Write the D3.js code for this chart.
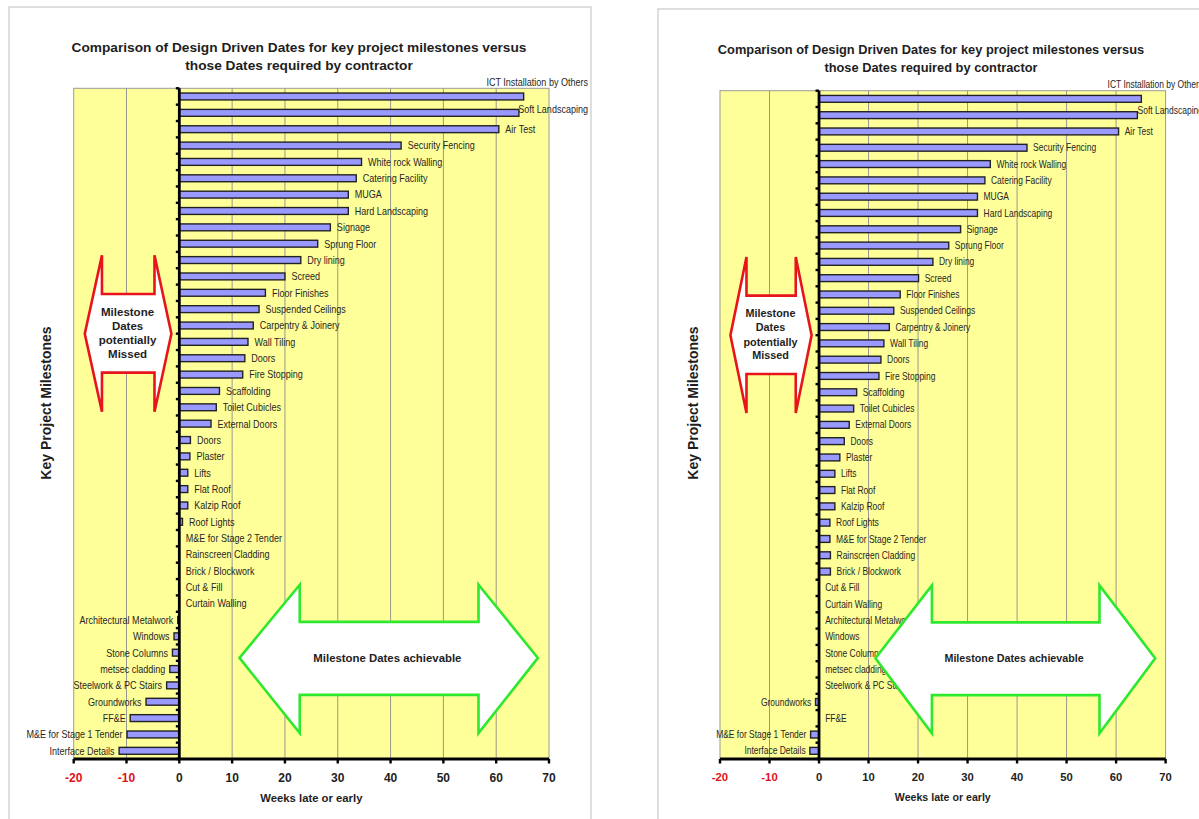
<!DOCTYPE html>
<html>
<head>
<meta charset="utf-8">
<script src="https://cdn.jsdelivr.net/npm/d3@7"></script>
<style>
  html, body { margin: 0; padding: 0; background: #fff; }
  svg { display: block; }
  text { font-family: "Liberation Sans", Arial, "DejaVu Sans", sans-serif; }
</style>
</head>
<body>
<svg id="chart" width="1199" height="819"></svg>
<script>
// ---------- DATA ----------
const categories = [
  "ICT Installation by Others", "Soft Landscaping", "Air Test", "Security Fencing",
  "White rock Walling", "Catering Facility", "MUGA", "Hard Landscaping", "Signage",
  "Sprung Floor", "Dry lining", "Screed", "Floor Finishes", "Suspended Ceilings",
  "Carpentry & Joinery", "Wall Tiling", "Doors", "Fire Stopping", "Scaffolding",
  "Toilet Cubicles", "External Doors", "Doors", "Plaster", "Lifts", "Flat Roof",
  "Kalzip Roof", "Roof Lights", "M&E for Stage 2 Tender", "Rainscreen Cladding",
  "Brick / Blockwork", "Cut & Fill", "Curtain Walling", "Architectural Metalwork",
  "Windows", "Stone Columns", "metsec cladding", "Steelwork & PC Stairs",
  "Groundworks", "FF&E", "M&E for Stage 1 Tender", "Interface Details"
];
const weeksLeft = [
  65.2, 64.3, 60.5, 42.0, 34.5, 33.5, 32.0, 32.0, 28.6, 26.2, 23.0, 20.0, 16.3, 15.1,
  14.0, 13.0, 12.4, 12.0, 7.6, 7.0, 6.0, 2.1, 2.0, 1.6, 1.6, 1.6, 0.6, 0, 0,
  0, 0, 0, -0.3, -1.0, -1.3, -1.8, -2.4, -6.3, -9.3, -9.9, -11.4
];
const weeksRight = [
  65.1, 64.3, 60.5, 42.0, 34.6, 33.5, 32.0, 32.0, 28.6, 26.2, 23.0, 20.1, 16.4, 15.1,
  14.2, 13.1, 12.5, 12.1, 7.6, 7.0, 6.1, 5.1, 4.2, 3.2, 3.2, 3.2, 2.2, 2.2, 2.3,
  2.3, 0, 0, 0, 0, 0, 0, 0, -0.7, 0, -1.7, -1.85
];
const xTicks = [-20, -10, 0, 10, 20, 30, 40, 50, 60, 70];
const gridWeeks = [-10, 10, 20, 30, 40, 50, 60];
const titleLines = [
  "Comparison of Design Driven Dates for key project milestones versus",
  "those Dates required by contractor"
];
const xTitle = "Weeks late or early";
const yTitle = "Key Project Milestones";
const missedText = ["Milestone", "Dates", "potentially", "Missed"];
const achievableText = "Milestone Dates achievable";

// ---------- LAYOUT / STYLE ----------
const panels = [
  { values: weeksLeft, k: 1,
    frame: { x: 9, y: 7, w: 582, h: 840 },
    plot: { left: 73.7, right: 549, top: 88.3, bottom: 759 },
    title: { cx: 299, y1: 47.7, y2: 65, width: 455 },
    yTitle: { x: 45.8, y: 403 }, tickY: 778, xTitleY: 798,
    clampRight: 588, labelDy: { 0: -14, 1: -3.5 } },
  { values: weeksRight, k: 0.94,
    frame: { x: 658, y: 9, w: 700, h: 840 },
    plot: { left: 720, right: 1165.6, top: 90.7, bottom: 759 },
    title: { cx: 931, y1: 49.3, y2: 67, width: 427 },
    yTitle: { x: 693.5, y: 403 }, tickY: 777, xTitleY: 797.7,
    clampRight: 1203, labelDy: { 0: -14.5, 1: -5 } }
];
// annotation shapes in data units (x: weeks, y: category-band units)
const redArrow = { xl: -17.9, xb1: -14.65, xb2: -4.7, xr: -1.5,
                   yMid: 15.0, yHeadTop: 10.2, yHeadBot: 19.77, yShaftTop: 12.57, yShaftBot: 17.38,
                   textX: -9.8, textY: [13.66, 14.54, 15.4, 16.25] };
const greenArrow = { xl: 11.4, xb1: 22.8, xb2: 56.65, xr: 67.9,
                     yMid: 34.82, yHeadTop: 30.35, yHeadBot: 39.42, yShaftTop: 32.62, yShaftBot: 37.08,
                     textX: 39.4 };

const svg = d3.select("#chart");

function arrowPath(a, x, y) {
  const pts = [
    [a.xl, a.yMid], [a.xb1, a.yHeadTop], [a.xb1, a.yShaftTop], [a.xb2, a.yShaftTop],
    [a.xb2, a.yHeadTop], [a.xr, a.yMid], [a.xb2, a.yHeadBot], [a.xb2, a.yShaftBot],
    [a.xb1, a.yShaftBot], [a.xb1, a.yHeadBot]
  ];
  return "M" + pts.map(p => x(p[0]).toFixed(2) + "," + y(p[1]).toFixed(2)).join("L") + "Z";
}

panels.forEach(P => {
  const g = svg.append("g");
  const k = P.k;
  // outer frame
  g.append("rect").attr("x", P.frame.x).attr("y", P.frame.y)
    .attr("width", P.frame.w).attr("height", P.frame.h)
    .attr("fill", "#fff").attr("stroke", "#bdbdbd").attr("stroke-width", 1);

  const x = d3.scaleLinear().domain([-20, 70]).range([P.plot.left, P.plot.right]);
  const yLin = d3.scaleLinear().domain([0, categories.length]).range([P.plot.top, P.plot.bottom]);
  const y = d3.scaleBand().domain(d3.range(categories.length))
    .range([P.plot.top, P.plot.bottom]).paddingInner(0.58).paddingOuter(0.29);

  // title
  titleLines.forEach((t, i) => {
    const tt = g.append("text").attr("x", P.title.cx).attr("y", i === 0 ? P.title.y1 : P.title.y2)
      .attr("text-anchor", "middle").attr("dominant-baseline", "central")
      .attr("font-weight", "bold").attr("font-size", 12).attr("fill", "#1e1e1e").text(t);
    if (i === 0) {
      const w = tt.node().getComputedTextLength();
      P.titleSize = 12 * P.title.width / w;
    }
    tt.attr("font-size", P.titleSize);
  });

  // plot background
  g.append("rect").attr("x", P.plot.left).attr("y", P.plot.top)
    .attr("width", P.plot.right - P.plot.left).attr("height", P.plot.bottom - P.plot.top)
    .attr("fill", "#ffff99").attr("stroke", "#9a9a9a").attr("stroke-width", 1);

  // gridlines
  g.selectAll(".grid").data(gridWeeks).join("line")
    .attr("x1", d => x(d)).attr("x2", d => x(d))
    .attr("y1", P.plot.top).attr("y2", P.plot.bottom)
    .attr("stroke", "#8c8c8c").attr("stroke-width", 0.9);

  // bars
  g.selectAll(".bar").data(P.values).join("rect")
    .attr("x", d => Math.min(x(0), x(d)))
    .attr("y", (d, i) => y(i))
    .attr("width", d => Math.abs(x(d) - x(0)))
    .attr("height", y.bandwidth())
    .attr("fill", "#9999ff")
    .attr("stroke", d => d === 0 ? "none" : "#222").attr("stroke-width", 1.4);

  // bar labels (narrow)
  const fs = 11 * k;
  P.values.forEach((v, i) => {
    const cy = y(i) + y.bandwidth() / 2 + (P.labelDy[i] || 0);
    const t = g.append("text").attr("font-size", fs).attr("fill", "#262626")
      .attr("y", cy).attr("dy", "0.35em").text(categories[i]);
    const w = t.node().getComputedTextLength() * 0.82;
    t.attr("textLength", w).attr("lengthAdjust", "spacingAndGlyphs");
    if (v < 0) {
      t.attr("text-anchor", "end").attr("x", x(v) - 4.5 * k);
    } else {
      let lx = v === 0 ? x(0) + 6.5 * k : x(v) + 6.5 * k;
      if (lx + w > P.clampRight) lx = P.clampRight - w;
      t.attr("text-anchor", "start").attr("x", lx);
    }
  });

  // y axis (zero line) with ticks
  g.append("line").attr("x1", x(0)).attr("x2", x(0))
    .attr("y1", P.plot.top).attr("y2", P.plot.bottom)
    .attr("stroke", "#000").attr("stroke-width", 2.8);
  g.selectAll(".ytick").data(d3.range(categories.length + 1)).join("line")
    .attr("x1", x(0) - 3.5).attr("x2", x(0))
    .attr("y1", d => yLin(d)).attr("y2", d => yLin(d))
    .attr("stroke", "#000").attr("stroke-width", 2.4);

  // x axis
  g.append("line").attr("x1", P.plot.left).attr("x2", P.plot.right)
    .attr("y1", P.plot.bottom).attr("y2", P.plot.bottom)
    .attr("stroke", "#000").attr("stroke-width", 2.8);
  g.selectAll(".xtick").data(xTicks).join("line")
    .attr("x1", d => x(d)).attr("x2", d => x(d))
    .attr("y1", P.plot.bottom).attr("y2", P.plot.bottom + 4.5)
    .attr("stroke", "#000").attr("stroke-width", 2.4);
  g.selectAll(".xlab").data(xTicks).join("text")
    .attr("x", d => x(d)).attr("y", P.tickY).attr("dy", "0.35em")
    .attr("text-anchor", "middle").attr("font-weight", "bold").attr("font-size", 12 * k)
    .attr("fill", d => d < 0 ? "#e0101a" : "#1e1e1e")
    .text(d => d);

  // axis titles
  g.append("text").attr("x", (P.plot.left + P.plot.right) / 2).attr("y", P.xTitleY).attr("dy", "0.35em")
    .attr("text-anchor", "middle").attr("font-weight", "bold").attr("font-size", 11.3 * k)
    .attr("fill", "#1e1e1e").text(xTitle);
  g.append("text").attr("transform", `translate(${P.yTitle.x},${P.yTitle.y}) rotate(-90)`)
    .attr("dy", "0.35em").attr("text-anchor", "middle").attr("font-weight", "bold")
    .attr("font-size", 14).attr("fill", "#1e1e1e").text(yTitle);

  // annotations
  g.append("path").attr("d", arrowPath(redArrow, x, yLin))
    .attr("fill", "#fff").attr("stroke", "#e8141c").attr("stroke-width", 2.6)
    .attr("stroke-linejoin", "miter");
  missedText.forEach((t, i) => {
    g.append("text").attr("x", x(redArrow.textX)).attr("y", yLin(redArrow.textY[i])).attr("dy", "0.35em")
      .attr("text-anchor", "middle").attr("font-weight", "bold").attr("font-size", 11.5 * k)
      .attr("fill", "#1e1e1e").text(t);
  });
  g.append("path").attr("d", arrowPath(greenArrow, x, yLin))
    .attr("fill", "#fff").attr("stroke", "#2ee82e").attr("stroke-width", 2.6)
    .attr("stroke-linejoin", "miter");
  g.append("text").attr("x", x(greenArrow.textX)).attr("y", yLin(greenArrow.yMid)).attr("dy", "0.35em")
    .attr("text-anchor", "middle").attr("font-weight", "bold").attr("font-size", 11.4 * k)
    .attr("fill", "#1e1e1e").text(achievableText);
});
</script>
</body>
</html>
